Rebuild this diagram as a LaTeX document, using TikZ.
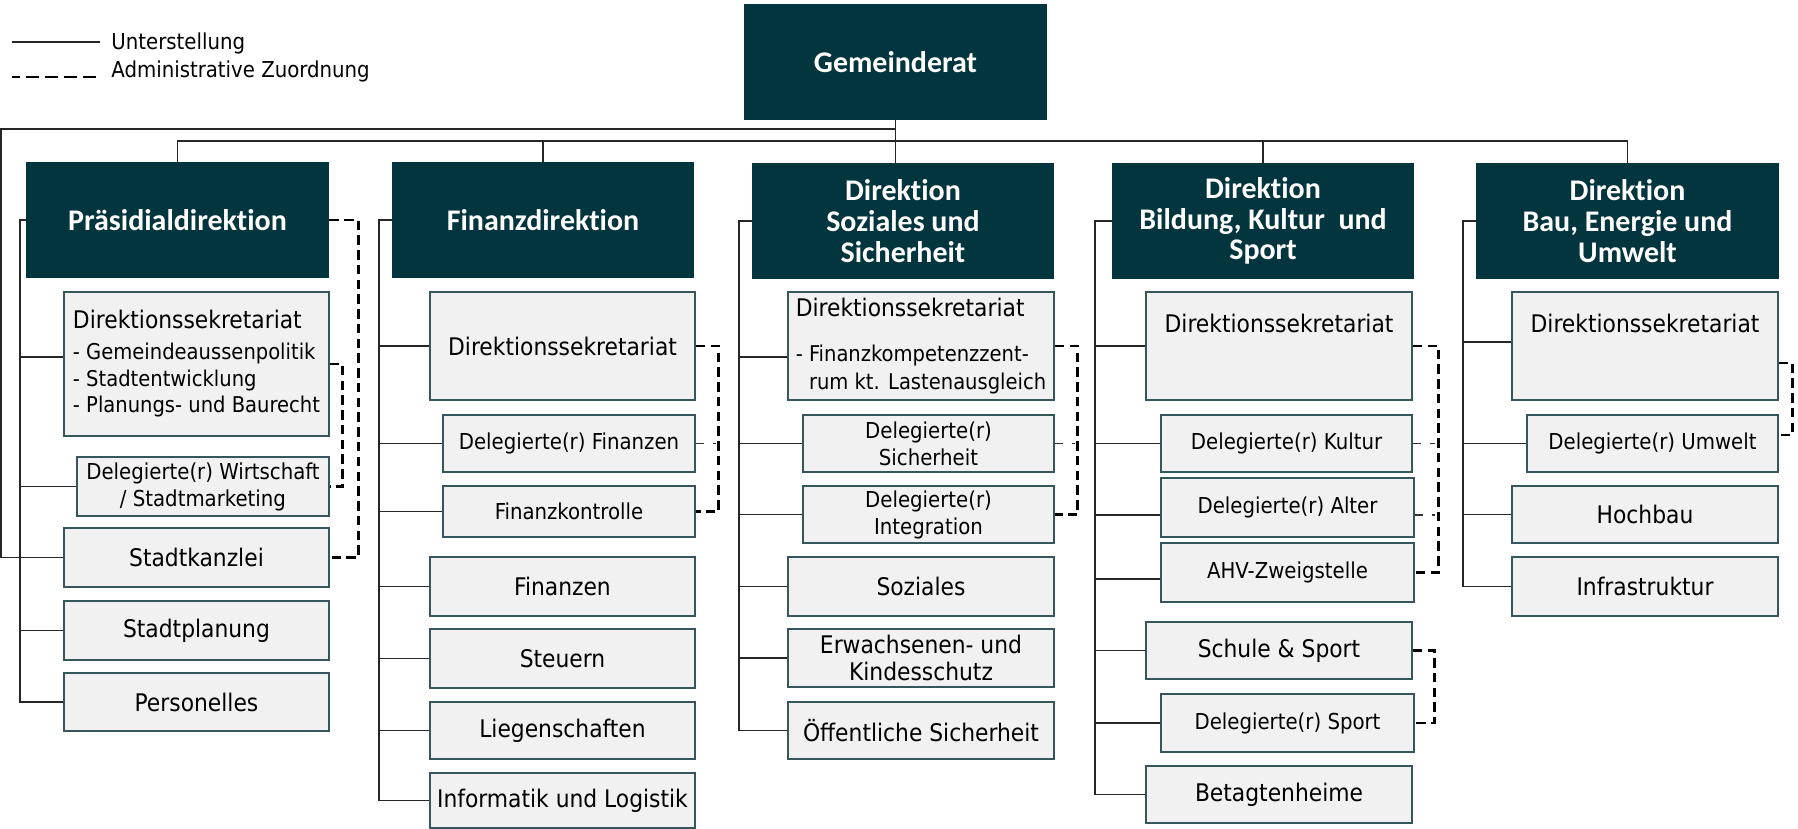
\documentclass[tikz,border=0pt]{standalone}
\usepackage{fontspec}
\newfontfamily\tahfont{DejaVu Sans Condensed}
\newfontfamily\calfont{Carlito}[Ligatures=NoCommon]
\usepackage{tikz}
\definecolor{headcol}{RGB}{3,53,63}
\definecolor{boxfill}{RGB}{241,241,241}
\definecolor{boxline}{RGB}{52,86,92}
\newdimen\pxu \pxu=0.016667cm
\newcommand\headfont{\calfont\bfseries\fontsize{14.2}{14.6}\selectfont}
\newcommand\boxfont{\tahfont\fontsize{11.5}{13.2}\selectfont}
\newcommand\delfont{\tahfont\fontsize{10.4}{12.8}\selectfont}
\newcommand\itemfont{\tahfont\fontsize{10.3}{12.6}\selectfont}
\tikzset{
    head/.style = {rectangle, fill=headcol, text=white, font=\headfont, align=center, inner sep=0pt},
    sbox/.style = {rectangle, draw=boxline, fill=boxfill, line width=0.7pt, font=\boxfont, align=center, inner sep=0pt},
    dbox/.style = {sbox, font=\delfont},
    topbox/.style = {sbox, minimum width=266*\pxu, text height=19.4pt, text depth=31.8pt},
    wh/.style 2 args = {minimum width=#1*\pxu, minimum height=#2*\pxu},
    link/.style = {draw=black!85, line width=0.75pt},
    adm/.style = {draw=black, line width=1.3pt, dash pattern=on 4.5pt off 2.5pt},
    admthin/.style = {draw=black!80, line width=0.7pt, dash pattern=on 4pt off 4pt},
    legtext/.style = {font=\delfont, anchor=west, inner sep=0pt}
}
\begin{document}
\begin{tikzpicture}[x=0.016667cm, y=-0.016667cm]
\useasboundingbox (0,0) rectangle (1798,829);

% legend
\node[legtext] (lu) at (111,43) {Unterstellung};
\node[legtext] (la) at (111,71) {Administrative Zuordnung};
\draw[link, line width=1pt] (lu.west) ++(-11,-1) -- ++(-88,0);
\draw[adm, line width=1pt, dash pattern=on 6pt off 3pt] (la.west) ++(-15,6) -- ++(-84,0);

% heads
\node[head, wh={303}{116}] (gr) at (895.5,62) {Gemeinderat};
\node[head, wh={303}{116}] (praes) at (177.5,220) {Präsidialdirektion};
\node[head, wh={302}{116}] (fin) at (543,220) {Finanzdirektion};
\node[head, wh={302}{116}] (sozd) at (903,221) {Direktion\\Soziales und\\Sicherheit};
\node[head, wh={302}{116}] (bild) at (1263,221) {Direktion\\Bildung, Kultur\ \ und\\Sport};
\node[head, wh={303}{116}] (bau) at (1627.5,221) {Direktion\\Bau, Energie und\\Umwelt};

\coordinate (bus) at (895.5,141);
\coordinate (loop) at (1,129);
\draw[link] (gr.south) -- (gr.south |- sozd.north);
\draw[link] (praes.north) |- (bus) -| (bau.north);
\draw[link] (fin.north) -- (fin.north |- bus);
\draw[link] (bild.north) -- (bild.north |- bus);

% Praesidialdirektion
\node[sbox, wh={265}{144}, font=\itemfont, align=left] (psek) at (196.5,364)
    {{\boxfont Direktionssekretariat}\\[2pt]- Gemeindeaussenpolitik\\- Stadtentwicklung\\- Planungs- und Baurecht};
\node[dbox, wh={252}{59}] (wirt) at (203,486.5) {Delegierte(r) Wirtschaft\\/ Stadtmarketing};
\node[sbox, wh={265}{59}] (stk) at (196.5,557.5) {Stadtkanzlei};
\node[sbox, wh={265}{59}] (stplan) at (196.5,630.5) {Stadtplanung};
\node[sbox, wh={265}{58}] (pers) at (196.5,702) {Personelles};

\coordinate (ptr) at (20,0);
\draw[link] (gr.south |- loop) -- (loop) |- (stk.west);
\draw[link] (praes.west) -- (praes.west -| ptr) |- (pers.west);
\draw[link] ([yshift=3.3pt]psek.west) -- +(-44,0);
\draw[link] (wirt.west) -- (wirt.west -| ptr);
\draw[link] (stplan.west) -- (stplan.west -| ptr);
\draw[adm] (praes.east) -- ++(29,0) |- (stk.east);
\draw[adm] (psek.east) -- ++(13,0) |- (wirt.east);

% Finanzdirektion
\node[sbox, wh={265}{108}] (fsek) at (562.5,346) {Direktionssekretariat};
\node[dbox, wh={252}{57}] (dfin) at (569,443.5) {Delegierte(r) Finanzen};
\node[dbox, wh={252}{51}] (fkon) at (569,511.5) {Finanzkontrolle};
\node[sbox, wh={265}{59}] (fnz) at (562.5,586.5) {Finanzen};
\node[sbox, wh={265}{59}] (steu) at (562.5,658.5) {Steuern};
\node[sbox, wh={265}{57}] (lieg) at (562.5,730.5) {Liegenschaften};
\node[sbox, wh={265}{55}] (info) at (562.5,800.5) {Informatik und Logistik};

\coordinate (ftr) at (379,0);
\draw[link] (fin.west) -- (fin.west -| ftr) |- (info.west);
\draw[link] (fsek.west) -- (fsek.west -| ftr);
\draw[link] (dfin.west) -- (dfin.west -| ftr);
\draw[link] (fkon.west) -- (fkon.west -| ftr);
\draw[link] (fnz.west) -- (fnz.west -| ftr);
\draw[link] (steu.west) -- (steu.west -| ftr);
\draw[link] (lieg.west) -- (lieg.west -| ftr);
\draw[adm] (fsek.east) -- ++(23,0) |- (fkon.east);
\draw[admthin] (dfin.east) -- ++(20,0);

% Soziales und Sicherheit
\node[sbox, wh={266}{108}, align=left] (ssek) at (921,346)
    {Direktionssekretariat\\[8pt]{\itemfont - Finanzkompetenzzent-}\\{\itemfont\hphantom{- }rum kt. Lastenausgleich}};
\node[dbox, wh={251}{57}] (dsich) at (928.5,443.5) {Delegierte(r)\\Sicherheit};
\node[dbox, wh={251}{57}] (dint) at (928.5,514.5) {Delegierte(r)\\Integration};
\node[sbox, wh={266}{59}] (sozi) at (921,586.5) {Soziales};
\node[sbox, wh={266}{58}] (kes) at (921,658) {Erwachsenen- und\\Kindesschutz};
\node[sbox, wh={266}{57}] (oes) at (921,730.5) {Öffentliche Sicherheit};

\coordinate (str) at (739,0);
\draw[link] (sozd.west) -- (sozd.west -| str) |- (oes.west);
\draw[link] ([yshift=-5.2pt]ssek.west) -- +(-49,0);
\draw[link] (dsich.west) -- (dsich.west -| str);
\draw[link] (dint.west) -- (dint.west -| str);
\draw[link] (sozi.west) -- (sozi.west -| str);
\draw[link] (kes.west) -- (kes.west -| str);
\draw[adm] (ssek.east) -- ++(23,0) |- (dint.east);
\draw[admthin] (dsich.east) -- ++(20,0);

% Bildung, Kultur und Sport
\node[topbox] (bsek) at (1279,346) {Direktionssekretariat};
\node[dbox, wh={251}{57}] (dkul) at (1286.5,443.5) {Delegierte(r) Kultur};
\node[dbox, wh={253}{59}] (dalt) at (1287.5,507.5) {Delegierte(r) Alter};
\node[dbox, wh={253}{59}] (ahv) at (1287.5,572.5) {AHV-Zweigstelle};
\node[sbox, wh={266}{57}] (schu) at (1279,650.5) {Schule \& Sport};
\node[dbox, wh={253}{58}] (dspo) at (1287.5,723) {Delegierte(r) Sport};
\node[sbox, wh={266}{57}] (beta) at (1279,794.5) {Betagtenheime};

\coordinate (btr) at (1095,0);
\draw[link] (bild.west) -- (bild.west -| btr) |- (beta.west);
\draw[link] (bsek.west) -- (bsek.west -| btr);
\draw[link] (dkul.west) -- (dkul.west -| btr);
\draw[link] ([yshift=-3.6pt]dalt.west) -- +(-66,0);
\draw[link] ([yshift=-3.1pt]ahv.west) -- +(-66,0);
\draw[link] (schu.west) -- (schu.west -| btr);
\draw[link] (dspo.west) -- (dspo.west -| btr);
\draw[adm] (bsek.east) -- ++(26,0) |- (ahv.east);
\draw[admthin] (dkul.east) -- ++(22,0);
\draw[admthin] ([yshift=-3.6pt]dalt.east) -- ++(20,0);
\draw[adm] (schu.east) -- ++(22,0) |- (dspo.east);

% Bau, Energie und Umwelt
\node[topbox] (usek) at (1645,346) {Direktionssekretariat};
\node[dbox, wh={251}{57}] (dumw) at (1652.5,443.5) {Delegierte(r) Umwelt};
\node[sbox, wh={266}{57}] (hoch) at (1645,514.5) {Hochbau};
\node[sbox, wh={266}{59}] (infra) at (1645,586.5) {Infrastruktur};

\coordinate (utr) at (1463,0);
\draw[link] (bau.west) -- (bau.west -| utr) |- (infra.west);
\draw[link] ([yshift=1.9pt]usek.west) -- +(-49,0);
\draw[link] (dumw.west) -- (dumw.west -| utr);
\draw[link] (hoch.west) -- (hoch.west -| utr);
\draw[adm] ([yshift=-8pt]usek.east) -- ++(14,0) |- ([yshift=4pt]dumw.east);
\end{tikzpicture}
\end{document}
